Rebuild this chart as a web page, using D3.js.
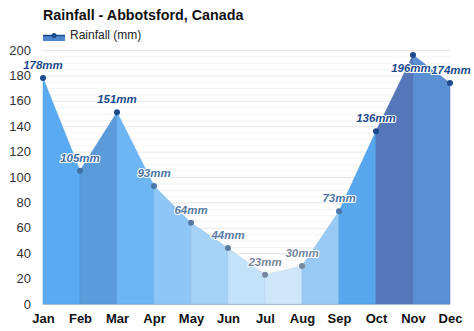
<!DOCTYPE html>
<html>
<head>
<meta charset="utf-8">
<script src="https://cdn.jsdelivr.net/npm/d3@7"></script>
<style>
  html, body { margin: 0; padding: 0; background: #ffffff; }
  svg { display: block; font-family: "Liberation Sans", Arial, sans-serif; }
</style>
</head>
<body>
<svg id="chart" width="474" height="331"></svg>
<script>
// Monthly rainfall, Abbotsford
const months = ["Jan", "Feb", "Mar", "Apr", "May", "Jun", "Jul", "Aug", "Sep", "Oct", "Nov", "Dec"];
const rainfall = [178, 105, 151, 93, 64, 44, 23, 30, 73, 136, 196, 174];
const yTicks = [0, 20, 40, 60, 80, 100, 120, 140, 160, 180, 200];

// Fill for each slice between two consecutive months
const bandColors = ["#5aaaf1", "#5b9bd9", "#6db6f2", "#8fc6f5", "#a6d2f7", "#c3e1f9",
                    "#cfe6f9", "#98caf5", "#58a6eb", "#5577b9", "#5a8fd2"];
// Colour of each month's dot and value label
const labelColors = ["#1c4b8c", "#3f6fa6", "#1c4b8c", "#4a76a8", "#557aa5", "#5b7ca3",
                     "#76879e", "#76879e", "#4c76a8", "#1c4b8c", "#1c4b8c", "#1c4b8c"];

const svg = d3.select("#chart");
const plotLeft = 43, plotRight = 450, plotTop = 50, plotBottom = 304;

const x = d3.scalePoint().domain(months).range([plotLeft, plotRight]);
const y = d3.scaleLinear().domain([0, 200]).range([plotBottom, plotTop]);

// Title
svg.append("text")
  .attr("x", 43).attr("y", 20)
  .attr("font-size", 14.3).attr("font-weight", "bold").attr("fill", "#111")
  .text("Rainfall - Abbotsford, Canada");

// Legend
const lg = svg.append("g");
lg.append("rect").attr("x", 43).attr("y", 35).attr("width", 22).attr("height", 6).attr("fill", "#4f85cc");
lg.append("line").attr("x1", 43).attr("x2", 65).attr("y1", 35.5).attr("y2", 35.5)
  .attr("stroke", "#1c4b8c").attr("stroke-width", 1.5);
lg.append("circle").attr("cx", 54).attr("cy", 35.5).attr("r", 2.5).attr("fill", "#1c4b8c");
lg.append("text").attr("x", 70).attr("y", 39).attr("font-size", 12).attr("fill", "#222")
  .text("Rainfall (mm)");

// Minor grid lines
const minor = d3.range(0, 201, 5).filter(v => v % 20 !== 0);
svg.append("g").selectAll("line").data(minor).join("line")
  .attr("x1", plotLeft).attr("x2", plotRight)
  .attr("y1", d => y(d) + 0.5).attr("y2", d => y(d) + 0.5)
  .attr("stroke", "#f4f4f4").attr("stroke-width", 1);

// Major grid lines
svg.append("g").selectAll("line").data(yTicks.filter(v => v > 0)).join("line")
  .attr("x1", plotLeft).attr("x2", plotRight)
  .attr("y1", d => y(d) + 0.5).attr("y2", d => y(d) + 0.5)
  .attr("stroke", "#e6e6e6").attr("stroke-width", 1);

// Y axis labels
const yAxis = svg.append("g").attr("transform", `translate(${plotLeft - 12},0)`)
  .call(d3.axisLeft(y).tickValues(yTicks).tickSize(0).tickPadding(0));
yAxis.select(".domain").remove();
yAxis.selectAll("text").attr("font-size", 13).attr("fill", "#333")
  .attr("font-family", "Liberation Sans, Arial, sans-serif");

// Area slices between consecutive months
const pts = months.map((m, i) => ({ m, v: rainfall[i] }));
const area = d3.area().x(d => x(d.m)).y0(plotBottom).y1(d => y(d.v));
const slices = d3.range(months.length - 1).map(i => [pts[i], pts[i + 1]]);
svg.append("g").selectAll("path").data(slices).join("path")
  .attr("d", area)
  .attr("fill", (d, i) => bandColors[i])
  .attr("stroke", (d, i) => d3.color(bandColors[i]).darker(0.15))
  .attr("stroke-width", 0.6);

// Baseline
svg.append("line").attr("x1", plotLeft).attr("x2", plotRight)
  .attr("y1", plotBottom + 0.5).attr("y2", plotBottom + 0.5)
  .attr("stroke", "#a9b8cc").attr("stroke-width", 1);

// X axis labels
const xAxis = svg.append("g").attr("transform", `translate(0,${plotBottom})`)
  .call(d3.axisBottom(x).tickSize(0).tickPadding(10));
xAxis.select(".domain").remove();
xAxis.selectAll("text").attr("font-size", 13).attr("font-weight", "bold").attr("fill", "#111")
  .attr("font-family", "Liberation Sans, Arial, sans-serif");

// Dots
svg.append("g").selectAll("circle").data(pts).join("circle")
  .attr("cx", d => x(d.m)).attr("cy", d => y(d.v)).attr("r", 3)
  .attr("fill", (d, i) => labelColors[i]);

// Value labels (the peak label sits below its dot; the last one is nudged to stay inside)
const maxV = d3.max(rainfall);
const last = months.length - 1;
svg.append("g").selectAll("text").data(pts).join("text")
  .attr("x", (d, i) => x(d.m) + (i === last ? 1 : d.v === maxV ? -2 : 0))
  .attr("y", d => d.v === maxV ? y(d.v) + 17 : y(d.v) - 9)
  .attr("text-anchor", "middle")
  .attr("font-size", 11.5).attr("font-weight", "bold").attr("font-style", "italic")
  .attr("fill", (d, i) => labelColors[i])
  .attr("stroke", "#ffffff").attr("stroke-width", 2).attr("stroke-linejoin", "round")
  .attr("paint-order", "stroke")
  .text(d => `${d.v}mm`);
</script>
</body>
</html>
